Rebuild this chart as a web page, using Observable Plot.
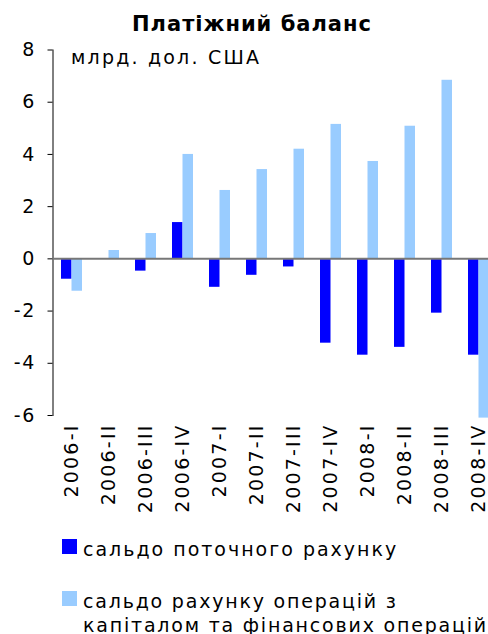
<!DOCTYPE html>
<html>
<head>
<meta charset="utf-8">
<script src="https://cdn.jsdelivr.net/npm/d3@7"></script>
<script src="https://cdn.jsdelivr.net/npm/@observablehq/plot@0.6"></script>
<style>
  html, body { margin: 0; padding: 0; background: #fff; overflow: hidden; width: 488px; height: 634px; }
  body { position: relative; font-family: "DejaVu Sans", Verdana, sans-serif; color: #000; }
  #title { position: absolute; left: 0; top: 14px; width: 504px; text-align: center; font-weight: bold; font-size: 21px; line-height: 21px; letter-spacing: 1px; }
  #chart { position: absolute; left: 0; top: 40px; }
  #chart svg { font-size: 19px !important; font-family: "DejaVu Sans", Verdana, sans-serif !important; }
  #chart svg text { font-size: 19px !important; letter-spacing: 1.6px; }
  #chart svg text.unit { letter-spacing: 2.2px; }
  #chart svg text.xtick { letter-spacing: 2.2px; }
  .leg { position: absolute; left: 62px; font-size: 19px; line-height: 24px; letter-spacing: 2px; white-space: nowrap; }
  .sw { position: absolute; left: 0; width: 15px; height: 15px; }
  .lt { position: absolute; left: 21px; top: 0; }
</style>
</head>
<body>
<div id="title"></div>
<div id="chart"></div>
<div id="legend"></div>
<script>
const title = "Платіжний баланс";
const unitLabel = "млрд. дол. США";
const quarters = ["2006-I", "2006-II", "2006-III", "2006-IV", "2007-I", "2007-II", "2007-III", "2007-IV", "2008-I", "2008-II", "2008-III", "2008-IV"];
const currentAccount = [-0.78, 0, -0.47, 1.39, -1.09, -0.63, -0.31, -3.23, -3.69, -3.39, -2.08, -3.69];
const capitalFinancial = [-1.24, 0.32, 0.97, 4.0, 2.62, 3.42, 4.2, 5.15, 3.73, 5.08, 6.84, -6.1];
const yTicks = [-6, -4, -2, 0, 2, 4, 6, 8];
const seriesNames = ["сальдо поточного рахунку", "сальдо рахунку операцій з<br>капіталом та фінансових операцій"];
const seriesColors = ["#0000ff", "#99ccff"];

const rows = quarters.map((q, i) => ({ q, ca: currentAccount[i], cf: capitalFinancial[i] }));

document.getElementById("title").textContent = title;

const chart = Plot.plot({
  width: 488,
  height: 495,
  marginLeft: 52.5,
  marginRight: -8.5,
  marginTop: 9.5,
  marginBottom: 120,
  style: { fontFamily: "'DejaVu Sans', Verdana, sans-serif", fontSize: "19px", background: "white", color: "black", overflow: "visible" },
  x: { domain: quarters, padding: 0, label: null, tickSize: 0, tickPadding: 8, tickRotate: -90 },
  y: { domain: [-6, 8], ticks: yTicks, tickFormat: d => String(d), label: null, tickSize: 5, tickPadding: 12, line: true },
  marks: [
    Plot.barY(rows, { x: "q", y: "ca", fill: seriesColors[0], insetLeft: 8, insetRight: 18.5 }),
    Plot.barY(rows, { x: "q", y: "cf", fill: seriesColors[1], insetLeft: 18.5, insetRight: 8 }),
    Plot.ruleY([0], { stroke: "#777", strokeWidth: 2 }),
    Plot.text([unitLabel], { text: d => d, frameAnchor: "top-left", textAnchor: "start", lineAnchor: "top", dx: 18, dy: 0, fontSize: 19 })
  ]
});
document.getElementById("chart").appendChild(chart);
chart.querySelectorAll("text").forEach(t => {
  if (t.textContent === unitLabel) t.classList.add("unit");
  else if (quarters.includes(t.textContent)) t.classList.add("xtick");
});

const legendTops = [537, 589];
const legendSpacing = ["2px", "1.8px"];
const legend = document.getElementById("legend");
seriesNames.forEach((name, i) => {
  const item = document.createElement("div");
  item.className = "leg";
  item.style.top = legendTops[i] + "px";
  item.style.letterSpacing = legendSpacing[i];
  item.innerHTML = `<div class="sw" style="background:${seriesColors[i]};top:2px"></div><div class="lt">${name}</div>`;
  legend.appendChild(item);
});
</script>
</body>
</html>
